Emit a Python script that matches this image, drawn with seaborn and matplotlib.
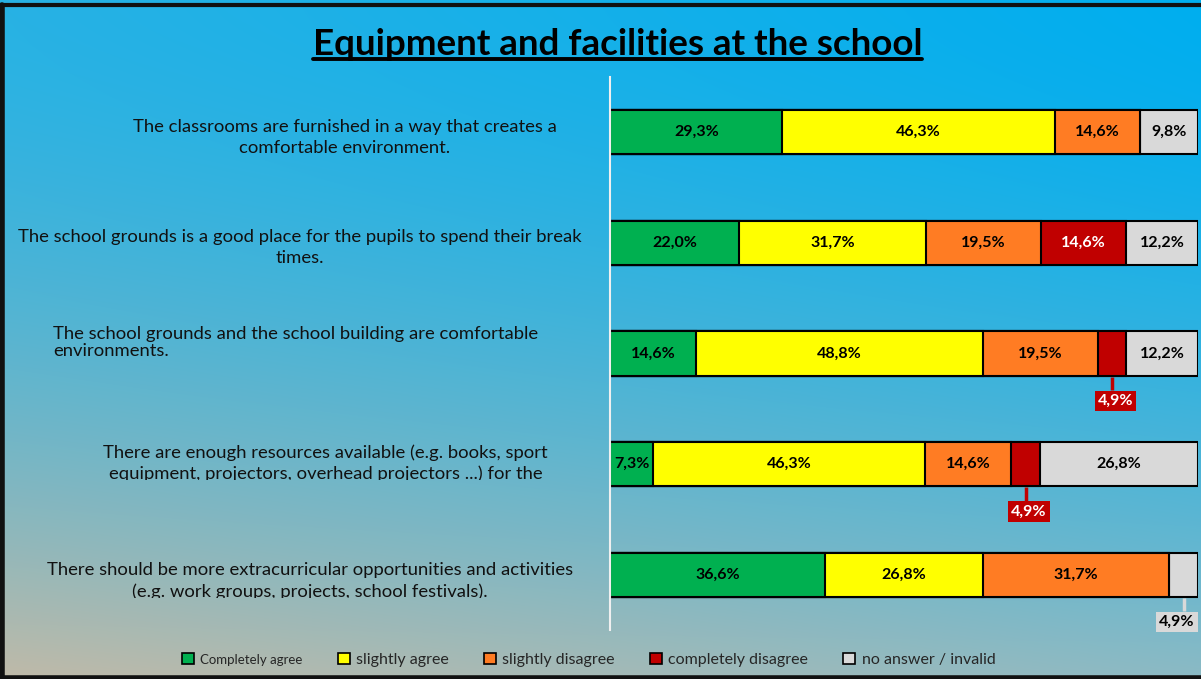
import matplotlib
matplotlib.use("Agg")
import matplotlib.pyplot as plt
import matplotlib.transforms as mtransforms
import numpy as np
import pandas as pd
import seaborn as sns
from matplotlib.lines import Line2D
from matplotlib.patches import Patch

# Data
questions = [
    "The classrooms are furnished in a way that creates a\ncomfortable environment.",
    "The school grounds is a good place for the pupils to spend their break\ntimes.",
    "The school grounds and the school building are comfortable\nenvironments.",
    "There are enough resources available (e.g. books, sport\nequipment, projectors, overhead projectors ...) for the",
    "There should be more extracurricular opportunities and activities\n(e.g. work groups, projects, school festivals).",
]
categories = ["Completely agree", "slightly agree", "slightly disagree",
              "completely disagree", "no answer / invalid"]
completely_agree = [29.3, 22.0, 14.6, 7.3, 36.6]
slightly_agree = [46.3, 31.7, 48.8, 46.3, 26.8]
slightly_disagree = [14.6, 19.5, 19.5, 14.6, 31.7]
completely_disagree = [0.0, 14.6, 4.9, 4.9, 0.0]
no_answer = [9.8, 12.2, 12.2, 26.8, 4.9]

colors = ["#00B050", "#FFFF00", "#FF7C23", "#C00000", "#D9D9D9"]
text_colors = ["black", "black", "black", "white", "black"]

df = pd.DataFrame({
    categories[0]: completely_agree,
    categories[1]: slightly_agree,
    categories[2]: slightly_disagree,
    categories[3]: completely_disagree,
    categories[4]: no_answer,
}, index=questions)
cum = df.cumsum(axis=1)

sns.set_theme(style="white")
plt.rcParams["font.family"] = ["Lato", "DejaVu Sans"]

fig = plt.figure(figsize=(12.01, 6.79), dpi=100)

# gradient background
h, w = 679, 1201
yy = np.linspace(0, 1, h)[:, None, None]
xx = np.linspace(0, 1, w)[None, :, None]
tl = np.array([40, 178, 228]) / 255
tr = np.array([0, 174, 239]) / 255
bl = np.array([192, 186, 168]) / 255
br = np.array([140, 186, 196]) / 255
t = yy ** 1.6
top = tl * (1 - xx) + tr * xx
bottom = bl * (1 - xx) + br * xx
grad = top * (1 - t) + bottom * t
bg = fig.add_axes([0, 0, 1, 1], zorder=-1)
bg.imshow(grad, aspect="auto", extent=[0, 1, 0, 1])
bg.axis("off")

ax = fig.add_axes([0.508, 0.0722, 0.4896, 0.8144])
ax.patch.set_alpha(0)

# stacked bars: overlay cumulative totals, longest first
for cat, col in reversed(list(zip(categories, colors))):
    sns.barplot(x=cum[cat].values, y=df.index, orient="h", color=col,
                edgecolor="black", linewidth=1.5, width=0.4, ax=ax, saturation=1)

ax.set_xlim(0, 100)
ax.set_ylim(4.5, -0.5)
ax.set_xlabel("")
ax.set_ylabel("")
ax.set_xticks([])
ax.set_yticks([])
for s in ["top", "right", "bottom"]:
    ax.spines[s].set_visible(False)
ax.spines["left"].set_color("#F0F0F0")
ax.spines["left"].set_linewidth(1.5)

# segment labels
for i, q in enumerate(questions):
    for j, cat in enumerate(categories):
        v = df.loc[q, cat]
        if v <= 0:
            continue
        xc = cum.loc[q, cat] - v / 2
        lab = f"{v:.1f}%".replace(".", ",")
        if v >= 7:
            ax.text(xc, i, lab, ha="center", va="center", fontsize=11.5,
                    fontweight="bold", color=text_colors[j])
        else:
            ax.plot([xc, xc], [i + 0.21, i + 0.33], color=colors[j], lw=2.5,
                    solid_capstyle="butt", clip_on=False)
            ax.text(min(xc + 0.6, 96.4), i + 0.43, lab, ha="center", va="center",
                    fontsize=11.5, fontweight="bold", color=text_colors[j], clip_on=False,
                    bbox=dict(boxstyle="square,pad=0.2", fc=colors[j], ec="none"))

# question labels on the left
label_x = [0.287, 0.250, 0.044, 0.271, 0.258]
label_ha = ["center", "center", "left", "center", "center"]
label_dy = [0.045, 0.045, -0.1, -0.01, 0.06]
label_ls = [1.4, 1.4, 1.1, 1.3, 1.4]
clip_top = [None, None, None, 1 - 480 / 679, 1 - 598 / 679]
blend = mtransforms.blended_transform_factory(fig.transFigure, ax.transData)
for i, q in enumerate(questions):
    tx = ax.text(label_x[i], i + label_dy[i], q, transform=blend, fontsize=13.3,
                 ha=label_ha[i], va="center", linespacing=label_ls[i],
                 multialignment="center" if label_ha[i] == "center" else "left",
                 color="#111111", clip_on=False)
    if clip_top[i] is not None:
        tx.set_clip_box(mtransforms.TransformedBbox(
            mtransforms.Bbox([[0, clip_top[i]], [1, 1]]), fig.transFigure))
        tx.set_clip_on(True)

# title with underline
title = fig.text(0.514, 0.935, "Equipment and facilities at the school", ha="center",
                 va="center", fontsize=26.5, fontweight="bold", color="black")
fig.canvas.draw()
bb = title.get_window_extent().transformed(fig.transFigure.inverted())
fig.add_artist(Line2D([bb.x0, bb.x1], [bb.y0 + 0.003, bb.y0 + 0.003], color="black",
                      lw=2.8, transform=fig.transFigure))

# legend
handles = [Patch(facecolor=c, edgecolor="black", linewidth=1.2) for c in colors]
leg = fig.legend(handles, categories, loc="center", bbox_to_anchor=(0.49, 0.028), ncol=5,
                 frameon=False, fontsize=11.5, handlelength=0.75, handleheight=0.75,
                 handletextpad=0.4, columnspacing=2.2)
leg.get_texts()[0].set_fontsize(9.5)

# frame
for xs, ys, lw in [([0.002, 0.002], [0, 0.993], 4), ([0, 1], [0.993, 0.993], 3),
                   ([0, 1], [0.002, 0.002], 4)]:
    fig.add_artist(Line2D(xs, ys, color="#111111", lw=lw, transform=fig.transFigure))

fig.savefig("out.png", dpi=100)
